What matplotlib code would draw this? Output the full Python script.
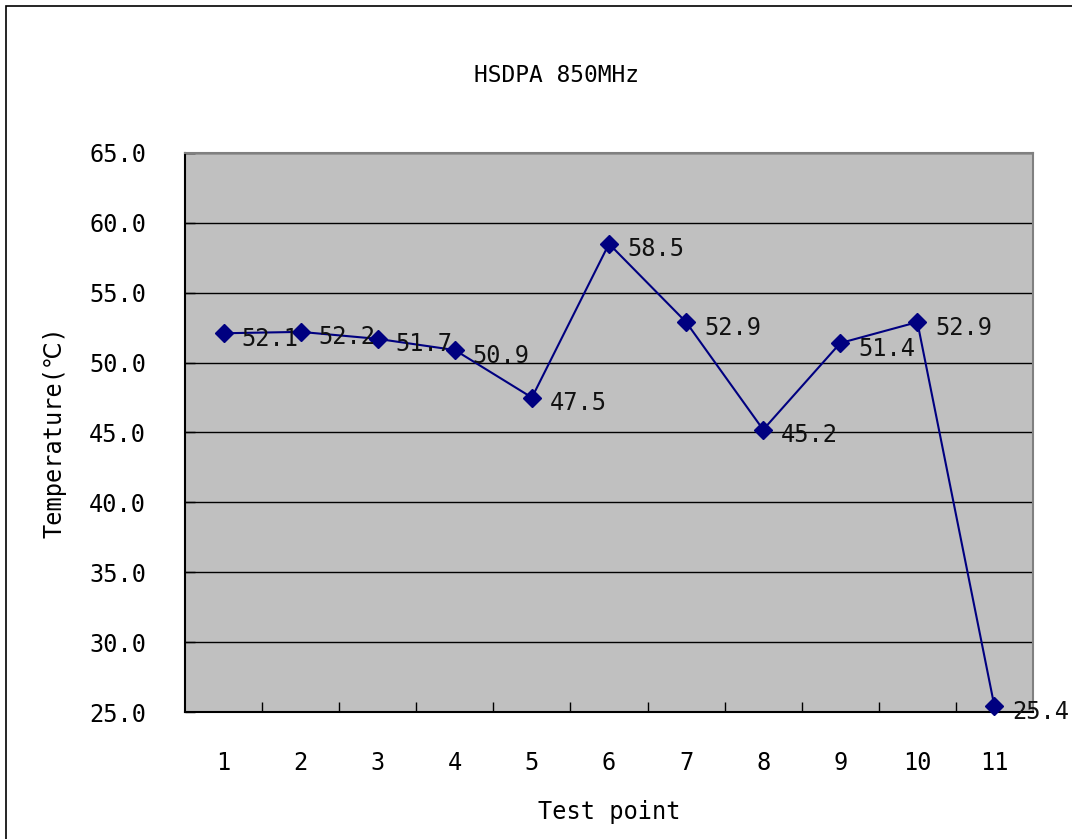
import matplotlib.pyplot as plt
import matplotlib.patches as patches
import numpy as np

plt.rcParams['font.family'] = ['DejaVu Sans Mono', 'DejaVu Sans', 'Noto Sans CJK JP']

# donnees
points = [1, 2, 3, 4, 5, 6, 7, 8, 9, 10, 11]
temperature = [52.1, 52.2, 51.7, 50.9, 47.5, 58.5, 52.9, 45.2, 51.4, 52.9, 25.4]
yticks = [25, 30, 35, 40, 45, 50, 55, 60, 65]

fig = plt.figure(figsize=(10.72, 8.39), dpi=100)
ax = fig.add_axes([185/1072, 1-712/839, (1033-185)/1072, (712-153)/839])
ax.set_facecolor('#c0c0c0')

# cadre exterieur
fig.patches.append(patches.Rectangle((6/1072, -0.1), 1.2, 1.1 - 6/839, transform=fig.transFigure,
                                     fill=False, edgecolor='black', linewidth=1.2))

ax.plot(points, temperature, color='#000080', linewidth=1.5, marker='D', markersize=9,
        markerfacecolor='#000080', markeredgecolor='#000080', zorder=3, clip_on=False)

for x, y in zip(points, temperature):
    ax.annotate("%.1f" % y, (x, y), xytext=(13, -4), textcoords='offset points',
                ha='left', va='center', fontsize=17, color='#111111', annotation_clip=False)

ax.set_xlim(0.5, 11.5)
ax.set_ylim(25, 65)
ax.set_yticks(yticks)
ax.set_yticklabels(["%.1f" % v for v in yticks], fontsize=17)
ax.set_xticks(points)
ax.set_xticklabels([str(p) for p in points], fontsize=17)
ax.set_xticks(np.arange(1.5, 11.5, 1), minor=True)
ax.tick_params(axis='x', which='major', length=0, pad=28)
ax.tick_params(axis='x', which='minor', direction='in', length=7, width=1)
ax.tick_params(axis='y', which='major', direction='in', length=7, width=1, pad=28)

ax.grid(axis='y', color='black', linewidth=1)
ax.set_axisbelow(True)
for s in ['top', 'right']:
    ax.spines[s].set_color('#808080')
    ax.spines[s].set_linewidth(1.5)
for s in ['left', 'bottom']:
    ax.spines[s].set_color('black')
    ax.spines[s].set_linewidth(1.5)

ax.set_xlabel('Test point', fontsize=17, labelpad=18)
ax.set_ylabel('Temperature(℃)', fontsize=17, labelpad=16)
fig.text(556/1072, 1-75/839, 'HSDPA 850MHz', ha='center', va='center', fontsize=16.5)

plt.savefig('out.png', dpi=100)
